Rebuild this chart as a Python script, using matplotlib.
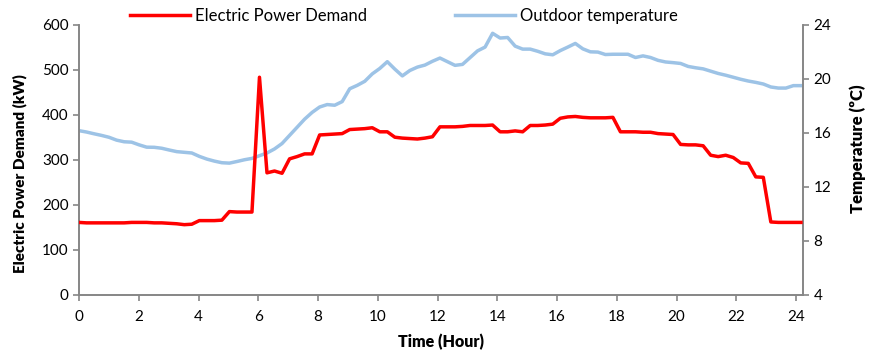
import numpy as np
import matplotlib
matplotlib.use("Agg")
import matplotlib.pyplot as plt

# 15-minute samples over one day
hours = np.linspace(0, 24.16, 97)

power_kw = [161, 160, 160, 160, 160, 160, 160, 161, 161, 161, 160, 160, 159, 158,
            156, 157, 165, 165, 165, 166, 185, 184, 184, 184, 483, 271, 275, 270,
            302, 307, 313, 313, 355, 356, 357, 358, 367, 368, 369, 371, 362, 362,
            350, 348, 347, 346, 348, 351, 373, 373, 373, 374, 376, 376, 376, 377,
            362, 362, 364, 362, 376, 376, 377, 379, 392, 395, 396, 394, 393, 393,
            393, 394, 362, 362, 362, 361, 361, 358, 357, 356, 334, 333, 333, 331,
            310, 307, 310, 305, 293, 292, 262, 261, 162, 161, 161, 161, 161]

temp_c = [16.15, 16.05, 15.92, 15.8, 15.66, 15.45, 15.33, 15.3, 15.1, 14.93, 14.92,
          14.85, 14.72, 14.6, 14.55, 14.5, 14.25, 14.05, 13.9, 13.78, 13.75, 13.87,
          14.0, 14.1, 14.3, 14.5, 14.8, 15.2, 15.8, 16.4, 17.0, 17.5, 17.9, 18.08,
          18.03, 18.3, 19.25, 19.5, 19.8, 20.35, 20.75, 21.25, 20.7, 20.2, 20.6,
          20.85, 21.0, 21.28, 21.52, 21.25, 20.98, 21.05, 21.55, 22.05, 22.33, 23.35,
          23.0, 23.04, 22.4, 22.18, 22.18, 22.02, 21.83, 21.76, 22.07, 22.33, 22.6,
          22.2, 21.98, 21.96, 21.78, 21.8, 21.8, 21.8, 21.56, 21.68, 21.56, 21.35,
          21.23, 21.18, 21.12, 20.9, 20.8, 20.72, 20.55, 20.38, 20.25, 20.1, 19.95,
          19.82, 19.72, 19.6, 19.38, 19.3, 19.3, 19.48, 19.48]

x_ticks = list(range(0, 25, 2))
power_ticks = list(range(0, 601, 100))
temp_ticks = list(range(4, 25, 4))

plt.rcParams["font.family"] = ["Lato", "DejaVu Sans"]

axis_grey = "#868686"

fig = plt.figure(figsize=(8.72, 3.5), dpi=100)
ax = fig.add_axes([79 / 872, 55 / 350, 724 / 872, 270.5 / 350])
ax2 = ax.twinx()

l1, = ax.plot(hours, power_kw, color="#ff0000", lw=2.5, label="Electric Power Demand",
              solid_joinstyle="round", zorder=3)
l2, = ax2.plot(hours, temp_c, color="#9dc3e6", lw=2.5, label="Outdoor temperature",
               solid_joinstyle="round")
ax.set_zorder(ax2.get_zorder() + 1)
ax.patch.set_visible(False)

ax.set_xlim(0, 24.23)
ax.set_ylim(0, 600)
ax2.set_ylim(4, 24)
ax.set_xticks(x_ticks)
ax.set_yticks(power_ticks)
ax2.set_yticks(temp_ticks)

for a in (ax, ax2):
    for side in ("left", "right", "bottom"):
        a.spines[side].set_color(axis_grey)
        a.spines[side].set_linewidth(1.2)
    a.spines["top"].set_visible(False)
    a.tick_params(colors=axis_grey, labelcolor="black", labelsize=11, length=4, width=1.2)
ax.tick_params(axis="x", pad=7)

ax.set_xlabel("Time (Hour)", fontsize=11.5, fontweight="heavy", labelpad=7)
ax.set_ylabel("Electric Power Demand (kW)", fontsize=11, fontweight="heavy")
ax.yaxis.set_label_coords(-0.072, 0.45)
ax2.set_ylabel("Temperature (ºC)", fontsize=12, fontweight="heavy", rotation=90)
ax2.yaxis.set_label_coords(1.064, 0.54)

fig.legend(handles=[l1, l2], loc="upper center", bbox_to_anchor=(0.463, 1.02), ncol=2,
           frameon=False, fontsize=12, handlelength=3.6, handletextpad=0.3,
           columnspacing=5.3)

fig.savefig("out.png", dpi=100)
